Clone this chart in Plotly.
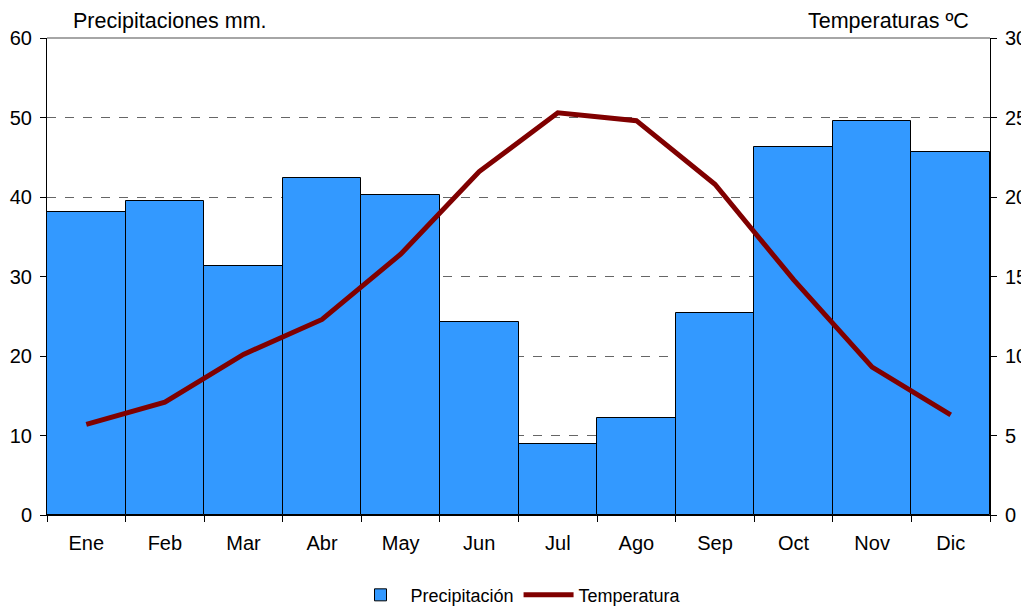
import plotly.graph_objects as go

months = ["Ene", "Feb", "Mar", "Abr", "May", "Jun", "Jul", "Ago", "Sep", "Oct", "Nov", "Dic"]
precipitacion = [38.1, 39.5, 31.3, 42.4, 40.3, 24.3, 8.9, 12.2, 25.4, 46.3, 49.5, 45.6]
temperatura = [5.7, 7.1, 10.1, 12.3, 16.4, 21.6, 25.3, 24.8, 20.8, 14.8, 9.3, 6.3]

FONT = "Liberation Sans, Arial, sans-serif"

fig = go.Figure()
fig.add_trace(go.Bar(
    x=months, y=precipitacion, name="Precipitación",
    marker=dict(color="#3399FF", line=dict(color="#000000", width=1)),
    yaxis="y",
))
fig.add_trace(go.Scatter(
    x=months, y=temperatura, name="Temperatura", mode="lines",
    line=dict(color="#800000", width=5),
    yaxis="y2",
))

fig.update_layout(
    width=1021, height=600,
    margin=dict(l=39, r=39, t=30, b=93, autoexpand=False),
    paper_bgcolor="white", plot_bgcolor="white",
    font=dict(family=FONT, size=20, color="#000000"),
    bargap=0,
    showlegend=True,
    legend=dict(orientation="h", x=0.5, xanchor="center", y=-0.168, yanchor="middle",
                font=dict(size=18), traceorder="normal", itemwidth=50),
    xaxis=dict(
        type="category", showgrid=False, showline=True, linecolor="#000000", linewidth=1,
        ticks="outside", tickson="boundaries", ticklen=6, tickcolor="#000000",
        tickfont=dict(size=20), automargin=False, ticklabelstandoff=10,
    ),
    yaxis=dict(
        range=[0, 60], dtick=10, showgrid=True, gridcolor="#666666", griddash="dash", gridwidth=1,
        showline=True, linecolor="#000000", linewidth=1, zeroline=False,
        ticks="outside", ticklen=6, tickcolor="#000000", tickfont=dict(size=20),
        automargin=False, ticklabelstandoff=4,
    ),
    yaxis2=dict(
        range=[0, 30], dtick=5, overlaying="y", side="right", showgrid=False,
        showline=True, linecolor="#000000", linewidth=1, zeroline=False,
        ticks="outside", ticklen=6, tickcolor="#000000", tickfont=dict(size=20),
        automargin=False, ticklabelstandoff=4,
    ),
    shapes=[dict(type="line", xref="paper", yref="paper", x0=0, x1=1, y0=1, y1=1,
                 line=dict(color="#888888", width=1.5))],
    annotations=[
        dict(text="Precipitaciones mm.", xref="paper", yref="paper", x=0.025, y=1.0,
             xanchor="left", yanchor="bottom", yshift=3, showarrow=False, font=dict(size=21.5)),
        dict(text="Temperaturas ºC", xref="paper", yref="paper", x=0.98, y=1.0,
             xanchor="right", yanchor="bottom", yshift=3, showarrow=False, font=dict(size=21.5)),
    ],
)

fig.write_html("out.html")
